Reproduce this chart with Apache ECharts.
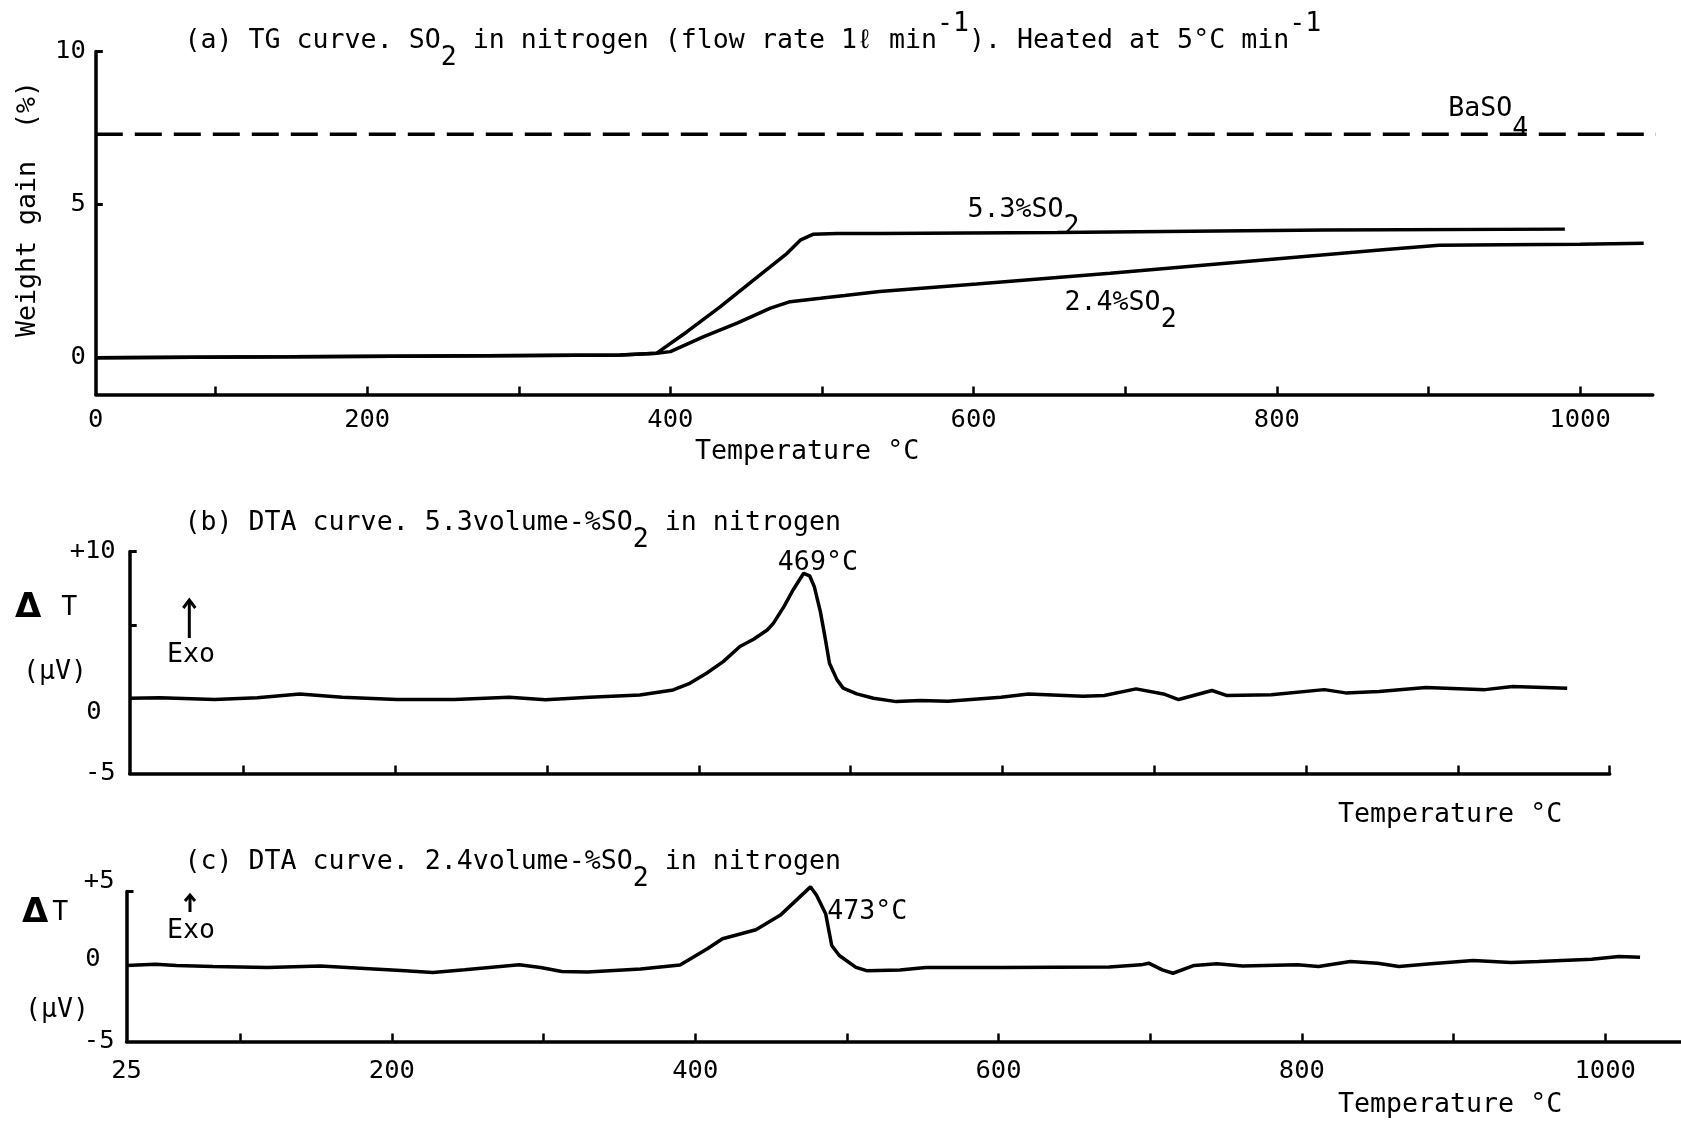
<!DOCTYPE html>
<html>
<head>
<meta charset="utf-8">
<script src="https://cdn.jsdelivr.net/npm/echarts@6.0.0/dist/echarts.min.js"></script>
<style>
html,body{margin:0;padding:0;background:#ffffff;}
#chart{width:1681px;height:1123px;}
</style>
</head>
<body>
<div id="chart"></div>
<script>
// ---------------- DATA ----------------
// (a) TG curves: temperature (°C) and weight gain (%)
const tg53Temp = [21, 150, 250, 367, 391, 411, 433, 455, 477, 486, 494, 510, 538, 655, 832, 990];
const tg53Gain = [0.00, 0.03, 0.06, 0.09, 0.15, 0.85, 1.67, 2.54, 3.41, 3.85, 4.03, 4.06, 4.06, 4.09, 4.17, 4.20];
const tg24Temp = [21, 150, 250, 367, 391, 400, 422, 444, 466, 479, 499, 515, 538, 602, 690, 797, 868, 907, 950, 1000, 1042];
const tg24Gain = [0.00, 0.03, 0.06, 0.09, 0.15, 0.20, 0.69, 1.13, 1.62, 1.83, 1.94, 2.03, 2.16, 2.41, 2.76, 3.22, 3.52, 3.67, 3.69, 3.71, 3.74];
const baso4Temp = [21, 1065];
const baso4Gain = [7.3, 7.3];

// (b) DTA, 5.3 vol-% SO2: temperature (°C) and ΔT (µV)
const dtaBTemp = [25, 45, 81, 109, 137, 165, 201, 239, 275, 299, 328, 361, 383, 394, 405, 416, 427, 436, 445, 449, 456, 462, 469, 473, 476, 480, 483, 486, 491, 495, 504, 515, 530, 546, 564, 599, 617, 653, 667, 688, 706, 716, 738, 748, 777, 812, 826, 848, 879, 918, 936, 972];
const dtaBDelta = [0.08, 0.11, -0.01, 0.11, 0.37, 0.15, 0.00, 0.00, 0.15, -0.03, 0.15, 0.30, 0.64, 1.09, 1.77, 2.55, 3.57, 4.06, 4.69, 5.14, 6.27, 7.39, 8.52, 8.34, 7.62, 5.93, 4.24, 2.44, 1.32, 0.76, 0.37, 0.08, -0.15, -0.08, -0.12, 0.15, 0.37, 0.22, 0.26, 0.71, 0.37, -0.01, 0.60, 0.26, 0.31, 0.66, 0.44, 0.53, 0.80, 0.66, 0.87, 0.75];

// (c) DTA, 2.4 vol-% SO2
const dtaCTemp = [25, 44, 58, 82, 118, 153, 188, 206, 227, 248, 284, 298, 312, 329, 364, 390, 408, 418, 440, 456, 476, 480, 486, 490, 495, 506, 513, 535, 552, 602, 673, 694, 699, 708, 715, 729, 744, 761, 797, 811, 832, 850, 864, 885, 913, 938, 956, 991, 1009, 1023];
const dtaCDelta = [0.07, 0.15, 0.07, 0.00, -0.07, 0.04, -0.16, -0.27, -0.40, -0.22, 0.11, -0.07, -0.33, -0.36, -0.16, 0.10, 1.18, 1.85, 2.45, 3.41, 5.31, 4.75, 3.52, 1.40, 0.73, -0.06, -0.28, -0.23, -0.07, -0.07, -0.04, 0.11, 0.22, -0.22, -0.45, 0.07, 0.18, 0.04, 0.11, 0.00, 0.33, 0.22, 0.00, 0.18, 0.40, 0.27, 0.33, 0.49, 0.67, 0.62];

// tick / label values
const xTickValues = [100, 200, 300, 400, 500, 600, 700, 800, 900, 1000];
const tgXLabelValues = [21, 200, 400, 600, 800, 1000];
const tgXLabelTexts = ['0', '200', '400', '600', '800', '1000'];
const dtaCXLabelValues = [25, 200, 400, 600, 800, 1000];
const dtaCXLabelTexts = ['25', '200', '400', '600', '800', '1000'];
const tgYLabelValues = [0, 5, 10];
const tgYTickValues = [5, 10];
const dtaBYLabelValues = [-5, 0, 10];
const dtaBYTickValues = [5, 10];
const dtaCYLabelValues = [-5, 0, 5];
const dtaCYTickValues = [5];

// ---------------- STYLE ----------------
const INK = '#000';
const FONT = '"DejaVu Sans Mono","Liberation Mono",monospace';
const FS = 26.6;
const LFS = 25.5;
const LW = 3.5;
const pair = (xs, ys) => xs.map((x, i) => [x, ys[i]]);

const rich = {
  sub: {fontFamily: FONT, fontSize: FS, lineHeight: 28, padding: [34, 0, 0, 0], color: INK, fill: INK},
  sub4: {fontFamily: FONT, fontSize: FS, lineHeight: 28, padding: [40, 0, 0, 0], color: INK, fill: INK},
  sup: {fontFamily: FONT, fontSize: FS, lineHeight: 28, padding: [0, 0, 34, 0], color: INK, fill: INK},
  d: {fontFamily: '"DejaVu Sans"', fontSize: 34, fontWeight: 'bold', lineHeight: 28, padding: [0, 4, 0, 0], color: INK, fill: INK}
};
const axisRich = {
  zb: {fontFamily: FONT, fontSize: LFS, color: INK, padding: [26, 14, 0, 0]},
  zc: {fontFamily: FONT, fontSize: LFS, color: INK, padding: [0, 14, 14, 0]},
  up: {fontFamily: FONT, fontSize: LFS, color: INK, padding: [0, 0, 20, 0]}
};

function txt(x, y, text, extra) {
  const el = {
    type: 'text', x: x, y: y, silent: true,
    style: {text: text, fill: INK, fontFamily: FONT, fontSize: FS, lineHeight: 28,
            rich: rich, align: 'left', verticalAlign: 'middle'}
  };
  return Object.assign(el, extra || {});
}
function arrow(x, y1, y2, hw, hh) {
  return {
    type: 'group', silent: true,
    children: [
      {type: 'line', shape: {x1: x, y1: y1, x2: x, y2: y2}, style: {stroke: INK, lineWidth: 3}},
      {type: 'polyline', shape: {points: [[x - hw, y2 + hh], [x, y2], [x + hw, y2 + hh]]}, style: {stroke: INK, lineWidth: 3, fill: null}}
    ]
  };
}

const axisLineStyle = {show: true, onZero: false, lineStyle: {color: INK, width: LW}};
function xAxis(grid, min, max, labelVals, labelTexts, margin) {
  return {
    type: 'value', gridIndex: grid, min: min, max: max,
    axisLine: axisLineStyle,
    splitLine: {show: false},
    axisTick: {show: true, inside: true, length: 8, customValues: xTickValues, lineStyle: {color: INK, width: 2.5}},
    axisLabel: labelVals ? {
      show: true, customValues: labelVals, margin: margin, color: INK, fontFamily: FONT, fontSize: LFS,
      formatter: v => { const i = labelVals.indexOf(v); return i >= 0 ? labelTexts[i] : ''; }
    } : {show: false}
  };
}
function yAxis(grid, min, max, labelVals, tickVals, margin, fmt) {
  return {
    type: 'value', gridIndex: grid, min: min, max: max,
    axisLine: axisLineStyle,
    splitLine: {show: false},
    axisTick: {show: true, inside: true, length: 7, customValues: tickVals, lineStyle: {color: INK, width: 3}},
    axisLabel: {show: true, customValues: labelVals, margin: margin, color: INK, fontFamily: FONT, fontSize: LFS,
                formatter: fmt, rich: axisRich}
  };
}
function lineSeries(xi, data, extra) {
  return Object.assign({
    type: 'line', xAxisIndex: xi, yAxisIndex: xi, data: data, symbol: 'none', showSymbol: false,
    smooth: false, silent: true, animation: false,
    lineStyle: {color: INK, width: LW}
  }, extra || {});
}
function curveLabel(coord, text) {
  return {
    coord: coord, symbol: 'circle', symbolSize: 0,
    label: {show: true, position: 'right', distance: 0, formatter: text, color: INK,
            fontFamily: FONT, fontSize: FS, lineHeight: 28, rich: rich}
  };
}

const chart = echarts.init(document.getElementById('chart'), null, {renderer: 'canvas'});
chart.setOption({
  backgroundColor: '#ffffff',
  animation: false,
  grid: [
    {left: 95.8, top: 51.5, width: 1557, height: 343, outerBoundsMode: 'none', containLabel: false},
    {left: 129.7, top: 551.4, width: 1480, height: 222, outerBoundsMode: 'none', containLabel: false},
    {left: 126.5, top: 891.5, width: 1554.5, height: 150, outerBoundsMode: 'none', containLabel: false}
  ],
  xAxis: [
    xAxis(0, 21, 1048, tgXLabelValues, tgXLabelTexts, 13),
    xAxis(1, 25, 1000, null, null, 0),
    xAxis(2, 25, 1050, dtaCXLabelValues, dtaCXLabelTexts, 17)
  ],
  yAxis: [
    yAxis(0, -1.2, 10, tgYLabelValues, tgYTickValues, 10, v => String(v)),
    yAxis(1, -5, 10, dtaBYLabelValues, dtaBYTickValues, 14, v => v === 0 ? '{zb|0}' : (v > 0 ? '+' + v : String(v))),
    yAxis(2, -5, 5, dtaCYLabelValues, dtaCYTickValues, 12, v => v === 0 ? '{zc|0}' : (v > 0 ? '{up|+' + v + '}' : String(v)))
  ],
  series: [
    lineSeries(0, pair(baso4Temp, baso4Gain), {clip: false, lineStyle: {color: INK, width: LW, type: [27, 12]},
      markPoint: {silent: true, animation: false, data: [curveLabel([913, 8.11], 'BaSO{sub4|4}')]}}),
    lineSeries(0, pair(tg53Temp, tg53Gain), {
      markPoint: {silent: true, animation: false, data: [curveLabel([596, 4.81], '5.3%SO{sub|2}')]}}),
    lineSeries(0, pair(tg24Temp, tg24Gain), {
      markPoint: {silent: true, animation: false, data: [curveLabel([660, 1.78], '2.4%SO{sub|2}')]}}),
    lineSeries(1, pair(dtaBTemp, dtaBDelta), {
      markPoint: {silent: true, animation: false, data: [curveLabel([452, 9.2], '469°C')]}}),
    lineSeries(2, pair(dtaCTemp, dtaCDelta), {clip: false,
      markPoint: {silent: true, animation: false, data: [curveLabel([487, 3.63], '473°C')]}})
  ],
  graphic: [
    txt(184.5, 41.4, '(a) TG curve. SO{sub|2} in nitrogen (flow rate 1ℓ min{sup|-1}). Heated at 5°C min{sup|-1}'),
    txt(28, 209, 'Weight gain  (%)', {rotation: Math.PI / 2, style: {text: 'Weight gain  (%)', fill: INK, fontFamily: FONT, fontSize: FS, align: 'center', verticalAlign: 'middle'}}),
    txt(695, 452, 'Temperature °C'),

    txt(184.5, 523, '(b) DTA curve. 5.3volume-%SO{sub|2} in nitrogen'),
    txt(15, 608, '{d|Δ} T'),
    arrow(189.3, 638, 600, 6, 8),
    txt(167, 655, 'Exo'),
    txt(23, 672, '(μV)'),
    txt(1338, 815, 'Temperature °C'),

    txt(184.5, 862, '(c) DTA curve. 2.4volume-%SO{sub|2} in nitrogen'),
    txt(22, 913, '{d|Δ}T'),
    arrow(190, 912, 895, 5, 6),
    txt(167, 931, 'Exo'),
    txt(25, 1010, '(μV)'),
    txt(1338, 1105, 'Temperature °C')
  ]
});
</script>
</body>
</html>
